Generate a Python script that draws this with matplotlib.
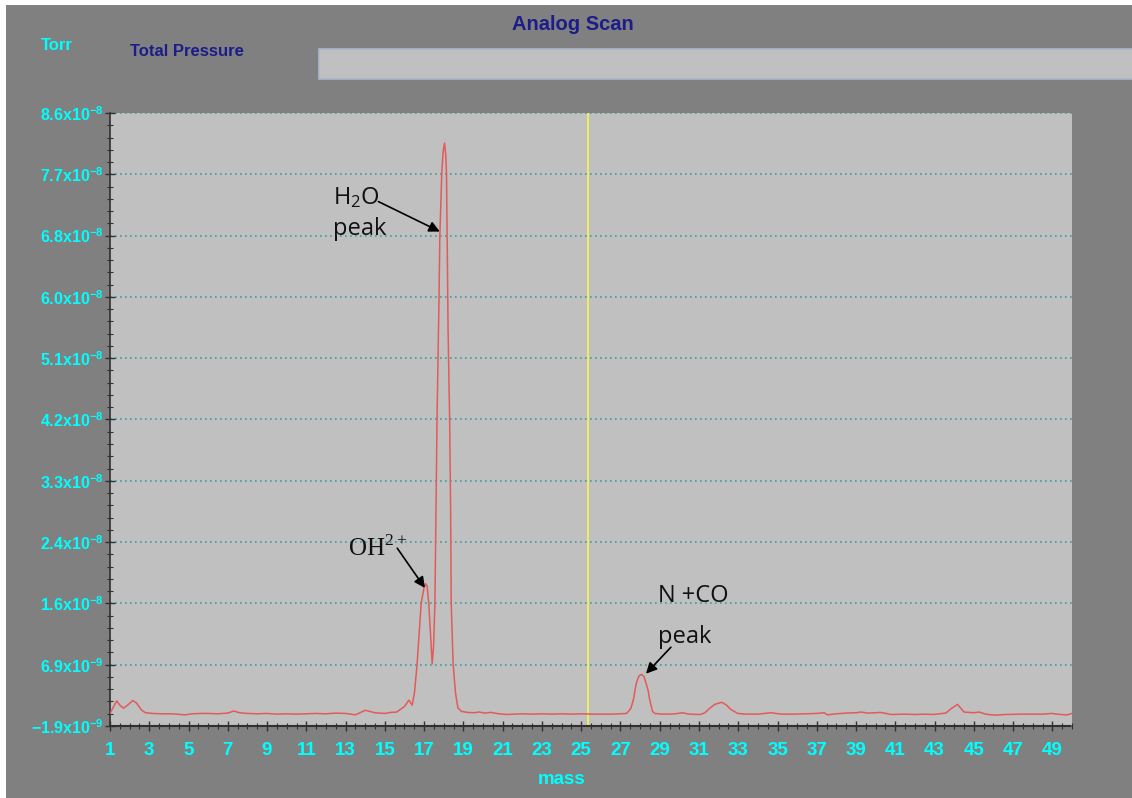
import numpy as np
import matplotlib
matplotlib.use("Agg")
import matplotlib.pyplot as plt
from matplotlib.patches import Rectangle
from matplotlib.font_manager import FontProperties, fontManager

# ---------------- data ----------------
mass = [1.00, 1.15, 1.34, 1.50, 1.68, 1.90, 2.16, 2.35, 2.60, 2.80, 3.20, 3.60, 4.00, 4.40,
        4.80, 5.20, 5.60, 6.00, 6.50, 7.00, 7.30, 7.60, 8.00, 8.50, 9.00, 9.50, 10.00, 10.50,
        11.00, 11.50, 12.00, 12.50, 13.00, 13.50, 14.00, 14.50, 15.00, 15.30, 15.60, 15.80,
        16.00, 16.22, 16.39, 16.51, 16.64, 16.85, 17.00, 17.07, 17.15, 17.24, 17.33, 17.41,
        17.48, 17.55, 17.60, 17.66, 17.76, 17.80, 17.90, 17.97, 18.04, 18.10, 18.14, 18.18,
        18.22, 18.30, 18.35, 18.38, 18.48, 18.60, 18.72, 18.90, 19.20, 19.55, 19.80, 20.10,
        20.40, 20.80, 21.20, 21.60, 22.00, 22.50, 23.00, 23.50, 24.00, 24.50, 25.00, 25.50,
        26.00, 26.50, 27.00, 27.31, 27.53, 27.67, 27.79, 27.85, 27.95, 28.07, 28.20, 28.41,
        28.48, 28.63, 28.75, 29.10, 29.50, 29.80, 30.15, 30.50, 31.08, 31.30, 31.53, 31.80,
        32.16, 32.40, 32.61, 32.97, 33.40, 34.00, 34.67, 35.20, 35.80, 36.40, 37.00, 37.37,
        37.55, 38.00, 38.50, 39.00, 39.25, 39.60, 40.00, 40.24, 40.80, 41.50, 42.00, 42.50,
        42.94, 43.57, 43.90, 44.17, 44.50, 45.00, 45.27, 45.60, 46.08, 46.60, 47.43, 48.00,
        48.50, 48.96, 49.40, 49.76, 50.00]

# pressure in units of 1e-9 Torr
pressure_e9 = [-0.10, 0.70, 1.70, 1.10, 0.65, 1.10, 1.75, 1.40, 0.40, 0.00, -0.10, -0.15, -0.15, -0.20,
               -0.30, -0.15, -0.10, -0.10, -0.15, -0.05, 0.25, 0.00, -0.10, -0.15, -0.10, -0.20, -0.15, -0.20,
               -0.15, -0.10, -0.15, -0.05, -0.10, -0.30, 0.35, 0.00, -0.10, 0.05, 0.10, 0.50,
               0.90, 1.80, 1.10, 2.90, 6.90, 15.70, 18.00, 18.50, 18.20, 15.60, 11.00, 7.00,
               9.50, 15.70, 28.00, 42.60, 59.70, 68.40, 77.40, 80.50, 81.70, 80.00, 77.40, 66.00,
               55.00, 42.00, 29.00, 15.60, 6.90, 2.80, 0.70, 0.20, 0.05, 0.00, 0.10, -0.05,
               0.05, -0.15, -0.25, -0.20, -0.15, -0.20, -0.15, -0.20, -0.15, -0.20, -0.15, -0.20,
               -0.20, -0.20, -0.15, -0.10, 0.60, 2.00, 4.00, 4.60, 5.30, 5.50, 5.20, 3.20,
               2.00, 0.20, -0.10, -0.20, -0.20, -0.15, 0.00, -0.20, -0.25, 0.00, 0.60, 1.20,
               1.50, 1.10, 0.50, -0.10, -0.20, -0.20, 0.00, -0.20, -0.20, -0.15, -0.10, 0.00,
               -0.30, -0.15, -0.05, 0.00, 0.10, -0.05, 0.00, 0.05, -0.25, -0.20, -0.25, -0.20,
               -0.25, -0.05, 0.70, 1.20, 0.10, 0.00, 0.10, -0.20, -0.35, -0.25, -0.20, -0.20,
               -0.20, -0.10, -0.25, -0.30, -0.10]

y_min, y_max = -1.9e-9, 8.6e-8
y_tick_mant = ["-1.9", "6.9", "1.6", "2.4", "3.3", "4.2", "5.1", "6.0", "6.8", "7.7", "8.6"]
y_tick_exp = ["-9", "-9", "-8", "-8", "-8", "-8", "-8", "-8", "-8", "-8", "-8"]
x_tick_labels = ["1", "3", "5", "7", "9", "11", "13", "15", "17", "19", "21", "23", "25",
                 "27", "29", "31", "33", "35", "37", "39", "41", "43", "45", "47", "49"]
cursor_mass = 25.37

# ---------------- figure ----------------
W, H = 1132, 798
fig = plt.figure(figsize=(W / 100, H / 100), dpi=100, facecolor="white")


def fx(x):
    return x / W


def fy(y):
    return 1 - y / H


available = {f.name for f in fontManager.ttflist}
narrow = "Liberation Sans Narrow" if "Liberation Sans Narrow" in available else "Liberation Sans"
sans_note = "Open Sans" if "Open Sans" in available else "DejaVu Sans"

fig.patches.append(Rectangle((fx(6), 0), 1, fy(5), transform=fig.transFigure,
                             facecolor="#808080", edgecolor="none", zorder=-10))
fig.patches.append(Rectangle((fx(319), fy(79)), fx(1132 - 319) + 0.01, 30 / H,
                             transform=fig.transFigure, facecolor="#c0c0c0",
                             edgecolor="#a8b8cc", linewidth=1.2, zorder=-5))

navy = "#1c1c8a"
cyan = "#00ffff"
fig.text(fx(573), fy(25), "Analog Scan", ha="center", va="center", color=navy,
         family=narrow, weight="bold", size=14.5)
fig.text(fx(57), fy(46), "Torr", ha="center", va="center", color=cyan,
         family=narrow, weight="bold", size=12)
fig.text(fx(187), fy(51), "Total Pressure", ha="center", va="center", color=navy,
         family=narrow, weight="bold", size=12)
fig.text(fx(562), fy(779), "mass", ha="center", va="center", color=cyan,
         family=narrow, weight="bold", size=13.5)

ax = fig.add_axes([fx(110), fy(726), 962 / W, 613 / H])
ax.set_facecolor("#c0c0c0")
ax.set_xlim(1, 50)
ax.set_ylim(y_min, y_max)

ax.plot(mass, np.array(pressure_e9) * 1e-9, color="#e35a5a", lw=1.1, zorder=3)
ax.axvline(cursor_mass, color="#f2f25a", lw=1.3, zorder=2)

# ticks
y_ticks = np.linspace(y_min, y_max, len(y_tick_mant))
ax.set_yticks(y_ticks)
y_minor = np.linspace(y_min, y_max, 5 * (len(y_tick_mant) - 1) + 1)
ax.set_yticks(y_minor, minor=True)
ax.set_yticklabels([r"$\mathregular{%sx10^{%s}}$" % (m, e) for m, e in zip(y_tick_mant, y_tick_exp)],
                   fontproperties=FontProperties(family=narrow, weight="bold", size=11.5))
x_ticks = [int(t) for t in x_tick_labels]
ax.set_xticks(x_ticks)
ax.set_xticks(np.arange(1, 50.01, 0.5), minor=True)
ax.set_xticklabels(x_tick_labels, fontproperties=FontProperties(family=narrow, weight="bold", size=13.5))

ax.tick_params(axis="both", which="major", direction="inout", length=7, width=1,
               color="#303030", labelcolor=cyan)
ax.tick_params(axis="both", which="minor", direction="inout", length=4, width=0.8,
               color="#303030")
ax.tick_params(axis="y", which="major", pad=1)
ax.tick_params(axis="x", which="major", pad=8)

ax.yaxis.grid(True, which="major", color="#3f9c9c", linestyle=(0, (1, 2)), linewidth=1.2)
ax.xaxis.grid(False)
ax.set_axisbelow(True)

for s in ("top", "right"):
    ax.spines[s].set_visible(False)
ax.spines["left"].set_color("#303030")
ax.spines["left"].set_linewidth(1.2)
ax.spines["bottom"].set_color("#303030")
ax.spines["bottom"].set_linewidth(1.5)
ax.spines["bottom"].set_linestyle((0, (2, 1)))

# annotations
note = dict(family=[sans_note, "DejaVu Sans"], size=17, color="#111111")
ax.text(12.38, 73.9e-9, r"H$\mathregular{_2}$O", ha="left", va="center", **note)
ax.text(12.38, 69.3e-9, "peak", ha="left", va="center", **note)
ax.annotate("", xy=(17.80, 69.0e-9), xytext=(14.67, 73.3e-9),
            arrowprops=dict(arrowstyle="-|>", color="black", lw=1.2, mutation_scale=16,
                            shrinkA=0, shrinkB=0))

ax.text(13.14, 23.6e-9, r"OH$^{\mathregular{2+}}$", ha="left", va="center",
        family="Liberation Serif", size=18, color="#111111")
ax.annotate("", xy=(17.04, 17.9e-9), xytext=(15.63, 23.6e-9),
            arrowprops=dict(arrowstyle="-|>", color="black", lw=1.2, mutation_scale=16,
                            shrinkA=0, shrinkB=0))

ax.text(28.91, 16.7e-9, "N +CO", ha="left", va="center", **note)
ax.text(28.91, 10.9e-9, "peak", ha="left", va="center", **note)
ax.annotate("", xy=(28.30, 5.6e-9), xytext=(29.57, 9.4e-9),
            arrowprops=dict(arrowstyle="-|>", color="black", lw=1.2, mutation_scale=16,
                            shrinkA=0, shrinkB=0))

fig.savefig("out.png", dpi=100, facecolor=fig.get_facecolor())
